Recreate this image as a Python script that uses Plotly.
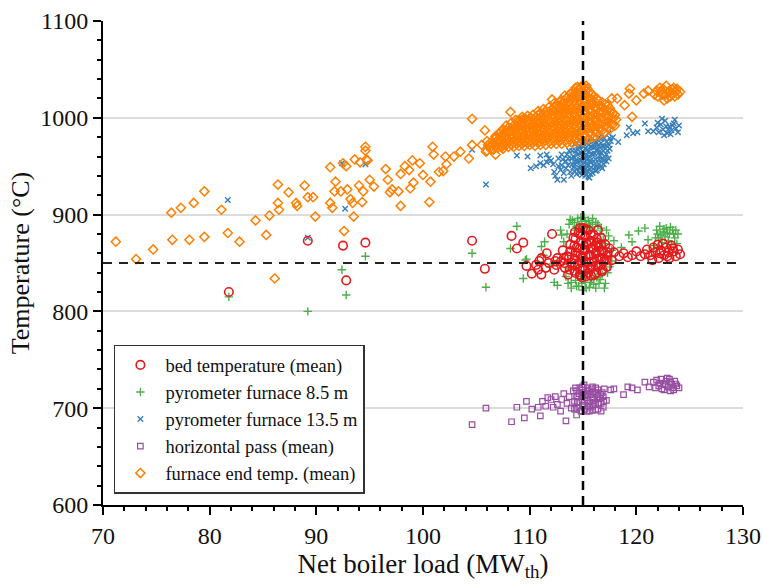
import plotly.graph_objects as go

# ---------------- data ----------------
# bed temperature (mean) - red open circles
bed_pts = [
    (81.8, 820), (89.2, 873), (92.5, 868), (92.8, 832), (94.6, 871),
    (104.6, 873), (105.8, 844), (108.3, 878), (108.8, 865), (109.4, 871),
    (109.7, 847), (110.2, 839), (110.6, 848), (111.1, 838), (111.1, 855),
    (111.6, 860), (111.8, 850), (112.1, 880), (112.3, 843), (112.6, 855),
    (112.9, 851), (113.1, 863), (113.3, 845), (113.5, 857), (113.6, 838),
    (113.8, 869), (113.9, 850), (114.1, 876), (114.2, 842), (114.3, 858),
    (114.4, 866), (114.5, 849), (114.6, 881), (114.7, 838), (114.8, 872),
    (114.9, 855), (115.0, 886), (115.0, 845), (115.1, 863), (115.2, 877),
    (115.3, 851), (115.4, 869), (115.5, 840), (115.5, 884), (115.6, 858),
    (115.7, 873), (115.8, 846), (115.9, 865), (116.0, 879), (116.0, 852),
    (116.1, 838), (116.2, 860), (116.3, 871), (116.4, 846), (116.5, 866),
    (116.6, 855), (116.7, 876), (116.8, 843), (116.9, 862), (117.0, 852),
    (117.1, 869), (117.3, 858), (117.5, 865), (117.7, 853), (117.9, 861),
    (118.4, 857), (118.8, 860), (119.2, 856), (119.6, 858), (120.0, 862),
    (120.4, 857), (120.8, 859), (121.0, 864), (121.3, 858), (121.6, 866),
    (121.8, 861), (122.0, 869), (122.1, 855), (122.3, 863), (122.5, 870),
    (122.6, 858), (122.8, 866), (123.0, 861), (123.1, 855), (123.3, 868),
    (123.5, 862), (123.7, 857), (123.9, 864), (124.1, 859), (122.2, 860),
    (122.9, 857), (123.4, 865), (121.5, 853), (114.9, 835), (116.4, 884),
    (114.25, 840), (114.25, 847), (114.2, 854), (114.3, 861), (114.2, 868),
    (114.3, 875), (114.25, 882), (114.75, 837), (114.7, 844), (114.8, 851),
    (114.75, 858), (114.7, 865), (114.8, 872), (114.75, 879), (114.7, 886),
    (115.25, 836), (115.2, 843), (115.3, 850), (115.25, 857), (115.2, 864),
    (115.3, 871), (115.25, 878), (115.2, 885), (115.75, 837), (115.7, 844),
    (115.8, 851), (115.75, 858), (115.7, 865), (115.8, 872), (115.75, 879),
    (116.25, 840), (116.2, 847), (116.3, 854), (116.25, 861), (116.2, 868),
    (116.3, 875), (116.75, 841), (116.7, 848), (116.8, 855), (116.75, 862),
    (116.7, 869), (117.25, 846), (117.2, 853), (117.3, 861), (113.75, 843),
    (113.7, 856), (113.8, 862), (113.25, 850), (113.2, 855), (112.5, 848),
    (112.4, 852), (110.8, 843), (110.9, 852), (111.5, 845),
]

# pyrometer furnace 8.5 m - green crosses
pyro85_pts = [
    (81.8, 815), (89.2, 800), (92.4, 843), (92.8, 817), (94.6, 857),
    (104.6, 860), (105.9, 825), (108.2, 865), (108.8, 888), (109.4, 834),
    (109.6, 853), (109.7, 854), (111.1, 867), (111.4, 872), (111.3, 858),
    (111.9, 846), (112.3, 830), (112.6, 827), (112.9, 884), (113.0, 879),
    (113.2, 872), (113.4, 836), (113.6, 829), (113.7, 890), (113.9, 824),
    (114.0, 894), (114.2, 884), (114.3, 832), (114.5, 896), (114.6, 826),
    (114.7, 889), (114.8, 836), (114.9, 893), (115.0, 822), (115.1, 897),
    (115.2, 830), (115.3, 888), (115.4, 839), (115.5, 894), (115.6, 825),
    (115.7, 887), (115.8, 833), (115.9, 892), (116.0, 828), (116.1, 884),
    (116.3, 835), (116.4, 890), (116.5, 829), (116.6, 880), (116.8, 838),
    (116.9, 874), (117.0, 824), (117.1, 870), (117.3, 840), (117.4, 878),
    (117.7, 863), (117.9, 873), (118.6, 866), (119.3, 879), (119.6, 872),
    (120.2, 883), (120.8, 886), (121.1, 874), (121.7, 868), (121.9, 884),
    (122.1, 876), (122.2, 888), (122.4, 871), (122.5, 882), (122.7, 877),
    (122.8, 886), (123.0, 873), (123.1, 880), (123.3, 869), (123.4, 884),
    (123.6, 876), (123.8, 870), (123.9, 880), (122.0, 866), (121.6, 862),
    (113.8, 895), (114.2, 892), (114.4, 888), (114.8, 897), (115.2, 893),
    (115.6, 890), (115.9, 896), (116.2, 892), (116.7, 886), (113.9, 830),
    (114.4, 826), (114.9, 829), (115.3, 824), (115.7, 830), (116.2, 824),
    (116.6, 833), (117.1, 829), (113.6, 845), (117.5, 846), (117.7, 852),
    (117.2, 884), (113.5, 880), (122.3, 879), (122.6, 885), (122.9, 881),
    (123.2, 887), (123.5, 880), (123.7, 884), (122.0, 880), (121.8, 876),
]

# pyrometer furnace 13.5 m - blue x
pyro135_pts = [
    (81.7, 915), (89.2, 876), (92.7, 906), (92.4, 953), (94.6, 952),
    (104.6, 967), (105.9, 931), (108.8, 961), (109.8, 960), (110.1, 948),
    (110.6, 950), (111.0, 953), (111.0, 961), (111.3, 951), (111.6, 962),
    (111.6, 954), (112.0, 956), (112.3, 944), (112.6, 936), (112.9, 946),
    (113.1, 957), (113.2, 936), (113.5, 962), (113.6, 951), (113.8, 944),
    (113.9, 958), (114.0, 966), (114.1, 949), (114.3, 955), (114.4, 942),
    (114.5, 962), (114.6, 970), (114.7, 948), (114.8, 956), (114.9, 941),
    (115.0, 965), (115.0, 949), (115.1, 973), (115.2, 944), (115.2, 958),
    (115.3, 952), (115.4, 967), (115.5, 939), (115.5, 976), (115.6, 947),
    (115.6, 960), (115.7, 954), (115.8, 970), (115.9, 943), (115.9, 979),
    (116.0, 951), (116.1, 963), (116.2, 957), (116.2, 973), (116.3, 946),
    (116.4, 968), (116.5, 952), (116.5, 980), (116.6, 961), (116.7, 974),
    (116.8, 948), (116.9, 966), (117.0, 956), (117.0, 979), (117.2, 962),
    (117.2, 971), (117.4, 984), (117.5, 968), (117.6, 976), (117.8, 980),
    (118.3, 975), (119.1, 982), (119.3, 990), (119.7, 984), (120.1, 985),
    (120.8, 994), (121.1, 986), (121.6, 986), (121.9, 990), (122.0, 995),
    (122.1, 985), (122.3, 993), (122.4, 999), (122.5, 988), (122.7, 997),
    (122.8, 991), (122.9, 984), (123.0, 988), (123.1, 991), (123.2, 983),
    (123.3, 987), (123.5, 994), (123.6, 998), (123.7, 989), (123.9, 985),
    (124.0, 992), (122.6, 982), (123.4, 992),
    (114.2, 945), (114.25, 952), (114.2, 959), (114.3, 966), (114.2, 973),
    (114.7, 943), (114.75, 950), (114.7, 957), (114.8, 964), (114.7, 971),
    (114.75, 977), (115.2, 940), (115.25, 947), (115.2, 954), (115.3, 961),
    (115.2, 968), (115.25, 975), (115.7, 942), (115.75, 949), (115.7, 956),
    (115.8, 963), (115.7, 970), (116.2, 945), (116.25, 950), (116.3, 967),
    (116.2, 975), (116.7, 950), (116.75, 957), (116.7, 964), (116.8, 971),
    (116.7, 978), (117.2, 955), (117.3, 966), (117.2, 975), (113.4, 955),
    (113.4, 948), (113.0, 951), (113.0, 962), (112.7, 950), (112.7, 958),
    (111.8, 958), (112.2, 952),
    (114.0, 952), (114.1, 960), (114.45, 947), (114.5, 955), (114.55, 967),
    (114.95, 945), (115.0, 952), (114.95, 960), (115.05, 970), (115.45, 944),
    (115.5, 951), (115.45, 958), (115.5, 965), (115.55, 972), (115.95, 947),
    (116.0, 955), (115.95, 962), (116.0, 969), (116.05, 976), (116.45, 949),
    (116.5, 957), (116.45, 964), (116.5, 972), (116.95, 952), (117.0, 960),
    (116.95, 970), (117.4, 958), (117.45, 972), (117.5, 979), (113.6, 958),
    (113.7, 966), (113.2, 943), (112.4, 940), (113.9, 940), (115.6, 938),
]

# horizontal pass (mean) - purple open squares
hpass_pts = [
    (104.6, 683), (105.9, 700), (108.3, 686), (108.8, 701), (109.5, 690),
    (109.7, 707), (110.2, 699), (110.8, 701), (111.0, 692), (111.2, 707),
    (111.5, 702), (111.7, 711), (112.0, 709), (112.2, 701), (112.4, 712),
    (112.6, 704), (112.9, 697), (113.0, 709), (113.2, 715), (113.4, 687),
    (113.5, 705), (113.7, 712), (113.9, 700), (114.1, 718), (114.2, 707),
    (114.4, 693), (114.5, 713), (114.6, 701), (114.7, 721), (114.8, 697),
    (114.9, 709), (115.0, 716), (115.0, 703), (115.1, 724), (115.2, 699),
    (115.3, 711), (115.4, 718), (115.5, 705), (115.6, 697), (115.7, 714),
    (115.8, 720), (115.9, 702), (116.0, 709), (116.1, 716), (116.2, 698),
    (116.3, 712), (116.4, 719), (116.5, 704), (116.6, 710), (116.7, 697),
    (116.8, 716), (117.0, 720), (117.2, 708), (117.6, 719), (117.9, 720),
    (118.8, 714), (119.2, 722), (119.6, 721), (120.1, 719), (120.8, 727),
    (121.2, 722), (121.6, 727), (121.9, 729), (122.1, 723), (122.3, 730),
    (122.5, 725), (122.6, 719), (122.8, 728), (123.0, 722), (123.1, 730),
    (123.3, 725), (123.5, 719), (123.6, 728), (123.8, 723), (124.0, 721),
    (122.4, 720), (123.2, 718), (121.8, 721),
    (114.4, 700), (114.45, 706), (114.4, 712), (114.4, 718), (114.9, 697),
    (114.95, 703), (114.9, 712), (114.9, 719), (114.95, 722), (115.4, 697),
    (115.45, 702), (115.4, 709), (115.45, 714), (115.4, 721), (115.9, 698),
    (115.95, 706), (115.9, 711), (115.95, 717), (115.9, 722), (116.4, 699),
    (116.45, 705), (116.4, 714), (116.9, 701), (116.95, 707), (116.9, 712),
    (122.2, 726), (122.7, 724), (123.2, 727), (123.7, 725), (122.9, 731),
    (123.4, 721),
    (114.6, 706), (114.65, 715), (115.15, 707), (115.2, 713), (115.65, 701),
    (115.6, 718), (116.15, 704), (116.2, 721), (116.65, 714), (116.7, 705),
    (114.2, 699), (114.3, 721),
]

# furnace end temp. (mean) - orange open diamonds
furnace_pts = [
    (71.2, 872), (73.1, 854), (74.7, 864), (76.4, 902), (76.5, 874),
    (77.3, 907), (78.1, 874), (78.5, 912), (79.5, 924), (79.5, 877),
    (81.1, 905), (81.7, 881), (82.8, 872), (84.3, 894), (85.3, 879),
    (85.6, 899), (86.1, 834), (86.4, 931), (86.4, 912), (86.5, 905),
    (87.4, 923), (88.1, 912), (88.2, 909), (88.9, 930), (89.2, 918),
    (89.7, 918), (89.9, 898), (91.3, 949), (91.3, 912), (91.5, 907),
    (91.8, 934), (91.7, 924), (92.3, 924), (92.5, 953), (92.8, 950),
    (92.9, 926), (92.6, 883), (93.2, 916), (93.5, 898), (93.6, 957),
    (93.4, 912), (94.0, 930), (94.1, 954), (94.3, 913), (94.4, 924),
    (94.6, 970), (94.7, 957), (94.6, 966), (95.0, 936), (95.4, 929),
    (94.8, 956), (96.5, 947), (96.7, 936), (97.1, 926), (96.9, 923),
    (97.7, 924), (97.9, 942), (97.9, 909), (98.3, 950), (99.0, 956),
    (98.7, 946), (99.1, 933), (98.8, 927), (99.7, 953), (100.0, 941),
    (100.6, 913), (100.7, 934), (100.9, 970), (101.0, 962), (101.5, 944),
    (101.9, 945), (102.1, 960), (102.2, 952), (102.9, 960), (103.5, 965),
    (104.3, 958), (104.6, 999), (104.6, 972), (105.5, 972), (105.8, 987),
    (105.9, 965), (106.4, 967), (106.8, 962), (107.4, 970), (107.7, 980),
    (108.2, 1006), (108.7, 998), (108.8, 989), (109.4, 999), (109.7, 989),
    (110.6, 988), (111.1, 1001), (112.1, 1019), (113.0, 1010),
    # dense band
    (106.0, 966), (106.1, 972), (106.0, 976), (106.6, 967), (106.5, 973),
    (106.7, 978), (107.0, 969), (107.1, 974), (106.9, 980), (107.2, 984),
    (107.5, 968), (107.6, 973), (107.4, 978), (107.6, 983), (107.5, 988),
    (108.0, 970), (108.1, 975), (107.9, 979), (108.1, 985), (108.0, 990),
    (108.5, 970), (108.6, 975), (108.4, 981), (108.6, 986), (108.5, 992),
    (109.0, 971), (109.1, 976), (108.9, 981), (109.1, 987), (109.0, 993),
    (109.1, 997), (109.5, 971), (109.6, 976), (109.4, 982), (109.6, 988),
    (109.5, 994), (109.6, 999), (110.0, 972), (110.1, 977), (109.9, 982),
    (110.1, 988), (110.0, 994), (110.1, 1000), (110.5, 971), (110.6, 977),
    (110.4, 983), (110.6, 989), (110.5, 995), (110.6, 1001), (111.0, 972),
    (111.1, 978), (110.9, 983), (111.1, 989), (111.0, 995), (111.1, 1000),
    (111.0, 1005), (111.5, 972), (111.6, 978), (111.4, 984), (111.6, 990),
    (111.5, 996), (111.6, 1002), (111.5, 1007), (112.0, 973), (112.1, 978),
    (111.9, 984), (112.1, 990), (112.0, 996), (112.1, 1002), (112.0, 1008),
    (112.5, 973), (112.6, 979), (112.4, 985), (112.6, 991), (112.5, 997),
    (112.6, 1003), (112.5, 1009), (112.6, 1013), (113.0, 973), (113.1, 979),
    (112.9, 985), (113.1, 991), (113.0, 997), (113.1, 1003), (112.9, 1009),
    (113.1, 1015), (113.0, 1018), (113.5, 974), (113.6, 979), (113.4, 985),
    (113.6, 991), (113.5, 997), (113.6, 1003), (113.4, 1009), (113.6, 1015),
    (113.5, 1021), (114.0, 974), (114.1, 980), (113.9, 986), (114.1, 992),
    (114.0, 998), (114.1, 1004), (113.9, 1010), (114.1, 1016), (114.0, 1022),
    (114.1, 1027), (114.5, 975), (114.6, 981), (114.4, 987), (114.6, 993),
    (114.5, 999), (114.6, 1005), (114.4, 1011), (114.6, 1017), (114.5, 1023),
    (114.6, 1029), (114.5, 1032), (115.0, 976), (115.1, 982), (114.9, 988),
    (115.1, 994), (115.0, 1000), (115.1, 1006), (114.9, 1012), (115.1, 1018),
    (115.0, 1024), (115.1, 1030), (115.0, 1033), (115.5, 978), (115.6, 984),
    (115.4, 990), (115.6, 996), (115.5, 1002), (115.6, 1008), (115.4, 1014),
    (115.6, 1020), (115.5, 1026), (115.4, 1030), (116.0, 980), (116.1, 986),
    (115.9, 992), (116.1, 998), (116.0, 1004), (116.1, 1010), (115.9, 1016),
    (116.0, 1022), (116.5, 982), (116.6, 988), (116.4, 994), (116.6, 1000),
    (116.5, 1006), (116.6, 1012), (116.4, 1018), (117.0, 985), (117.1, 991),
    (116.9, 997), (117.1, 1003), (117.0, 1009), (117.1, 1014), (117.5, 988),
    (117.6, 994), (117.4, 1000), (117.6, 1006), (117.5, 1010), (118.0, 992),
    (118.1, 998), (118.0, 1003),
    # dense band, in-between readings
    (106.3, 969), (106.3, 974), (106.8, 970), (106.8, 975), (106.8, 981),
    (107.3, 971), (107.3, 976), (107.3, 981), (107.3, 986), (107.8, 972),
    (107.8, 977), (107.8, 982), (107.8, 987), (107.8, 992), (108.3, 972),
    (108.3, 978), (108.3, 983), (108.3, 989), (108.3, 995), (108.8, 973),
    (108.8, 978), (108.8, 984), (108.8, 990), (108.8, 996), (109.3, 973),
    (109.3, 979), (109.3, 985), (109.3, 991), (109.3, 996), (109.3, 1001),
    (109.8, 974), (109.8, 979), (109.8, 985), (109.8, 991), (109.8, 997),
    (109.8, 1002), (110.3, 974), (110.3, 980), (110.3, 986), (110.3, 992),
    (110.3, 998), (110.3, 1003), (110.8, 974), (110.8, 980), (110.8, 986),
    (110.8, 992), (110.8, 998), (110.8, 1003), (110.8, 1007), (111.3, 975),
    (111.3, 981), (111.3, 987), (111.3, 993), (111.3, 999), (111.3, 1004),
    (111.3, 1009), (111.8, 975), (111.8, 981), (111.8, 987), (111.8, 993),
    (111.8, 999), (111.8, 1005), (111.8, 1011), (112.3, 976), (112.3, 982),
    (112.3, 988), (112.3, 994), (112.3, 1000), (112.3, 1006), (112.3, 1011),
    (112.3, 1015), (112.8, 976), (112.8, 982), (112.8, 988), (112.8, 994),
    (112.8, 1000), (112.8, 1006), (112.8, 1012), (112.8, 1017), (113.3, 976),
    (113.3, 982), (113.3, 988), (113.3, 994), (113.3, 1000), (113.3, 1006),
    (113.3, 1012), (113.3, 1018), (113.3, 1023), (113.8, 977), (113.8, 983),
    (113.8, 989), (113.8, 995), (113.8, 1001), (113.8, 1007), (113.8, 1013),
    (113.8, 1019), (113.8, 1025), (114.3, 978), (114.3, 984), (114.3, 990),
    (114.3, 996), (114.3, 1002), (114.3, 1008), (114.3, 1014), (114.3, 1020),
    (114.3, 1026), (114.3, 1031), (114.8, 979), (114.8, 985), (114.8, 991),
    (114.8, 997), (114.8, 1003), (114.8, 1009), (114.8, 1015), (114.8, 1021),
    (114.8, 1027), (114.8, 1032), (115.3, 981), (115.3, 987), (115.3, 993),
    (115.3, 999), (115.3, 1005), (115.3, 1011), (115.3, 1017), (115.3, 1023),
    (115.3, 1028), (115.3, 1033), (115.8, 983), (115.8, 989), (115.8, 995),
    (115.8, 1001), (115.8, 1007), (115.8, 1013), (115.8, 1019), (115.8, 1025),
    (116.3, 985), (116.3, 991), (116.3, 997), (116.3, 1003), (116.3, 1009),
    (116.3, 1015), (116.3, 1020), (116.8, 987), (116.8, 993), (116.8, 999),
    (116.8, 1005), (116.8, 1011), (116.8, 1016), (117.3, 990), (117.3, 996),
    (117.3, 1002), (117.3, 1008), (117.3, 1013), (117.8, 993), (117.8, 999),
    (117.8, 1005),
    # right part
    (117.7, 1020), (118.2, 1020), (118.9, 1013), (119.3, 1025), (119.4, 1030),
    (119.6, 1001), (120.0, 1018), (120.7, 1025), (121.1, 1028), (121.7, 1024),
    (122.0, 1022), (122.3, 1027), (122.5, 1030), (122.7, 1024), (122.9, 1020),
    (123.1, 1028), (123.3, 1025), (123.5, 1031), (123.7, 1027), (123.9, 1024),
    (124.1, 1027), (122.2, 1031), (122.8, 1033), (123.2, 1022), (123.6, 1022),
    (122.6, 1018), (123.0, 1026), (123.4, 1029), (123.8, 1030), (122.4, 1024),
    (121.9, 1028),
]

series_names = [
    "bed temperature (mean)",
    "pyrometer furnace 8.5 m",
    "pyrometer furnace 13.5 m",
    "horizontal pass (mean)",
    "furnace end temp. (mean)",
]

ref_load = 115      # vertical dashed reference (MWth)
ref_temp = 850      # horizontal dashed reference (°C)

x_range = [70, 130]
y_range = [600, 1100]
x_ticks = [70, 80, 90, 100, 110, 120, 130]
y_ticks = [600, 700, 800, 900, 1000, 1100]

# ---------------- figure ----------------
FONT = "Liberation Serif, Times New Roman, serif"

fig = go.Figure()

def add(pts, name, rank, symbol, size, color, lw):
    fig.add_trace(go.Scatter(
        x=[p[0] for p in pts], y=[p[1] for p in pts],
        mode="markers", name=name, legendrank=rank,
        marker=dict(symbol=symbol, size=size, color=color,
                    line=dict(color=color, width=lw)),
    ))

# drawing order: green, blue, red, purple, orange
add(pyro85_pts, series_names[1], 2, "cross-thin", 6, "#4daf4a", 1.4)
add(pyro135_pts, series_names[2], 3, "x-thin", 5.5, "#377eb8", 1.4)
add(bed_pts, series_names[0], 1, "circle-open", 8.5, "#e41a1c", 1.6)
add(hpass_pts, series_names[3], 4, "square-open", 5.5, "#984ea3", 1.2)
add(furnace_pts, series_names[4], 5, "diamond-open", 7, "#ff7f00", 1.5)

fig.add_vline(x=ref_load, line=dict(color="black", width=2.5, dash="9px,6px"))
fig.add_hline(y=ref_temp, line=dict(color="#222", width=2, dash="9px,7px"))

axis_common = dict(
    showline=True, linecolor="black", linewidth=2,
    ticks="outside", ticklen=8, tickwidth=2, tickcolor="black",
    tickfont=dict(family=FONT, size=24, color="#111"),
    zeroline=False,
)

fig.update_xaxes(
    range=x_range, tickvals=x_ticks, showgrid=False,
    title=dict(text="Net boiler load (MW<sub>th</sub>)",
               font=dict(family=FONT, size=27, color="#111"), standoff=6),
    minor=dict(dtick=2, ticks="outside", ticklen=4, tickwidth=1.5, tickcolor="black"),
    **axis_common,
)
fig.update_yaxes(
    range=y_range, tickvals=y_ticks, showgrid=True, gridcolor="#dcdcdc", gridwidth=1.5,
    title=dict(text="Temperature (°C)",
               font=dict(family=FONT, size=26, color="#111"), standoff=3),
    minor=dict(dtick=20, ticks="outside", ticklen=4, tickwidth=1.5, tickcolor="black",
               showgrid=False),
    **axis_common,
)

fig.update_layout(
    width=763, height=587,
    margin=dict(l=103, r=20, t=21, b=82, autoexpand=False),
    plot_bgcolor="white", paper_bgcolor="white",
    showlegend=True,
    legend=dict(
        x=0.017, y=0.023, xanchor="left", yanchor="bottom",
        bgcolor="white", bordercolor="#333", borderwidth=1.5,
        font=dict(family=FONT, size=18.5, color="#111"),
        tracegroupgap=0, itemwidth=40,
    ),
)

fig.write_html("out.html")
